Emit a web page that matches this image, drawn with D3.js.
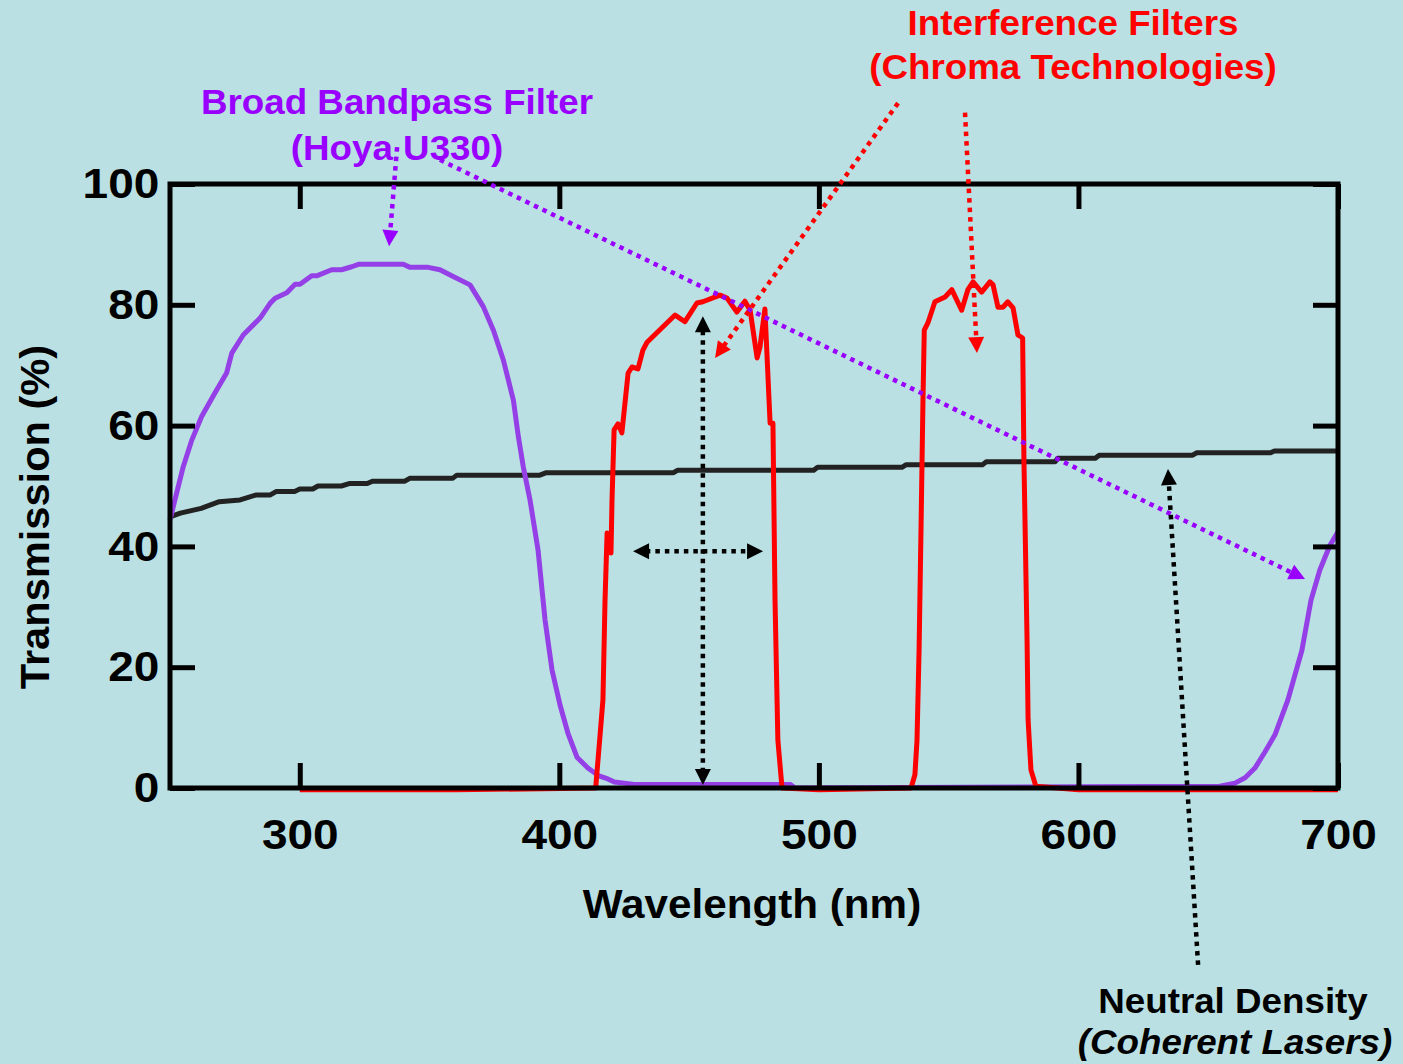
<!DOCTYPE html>
<html>
<head>
<meta charset="utf-8">
<script src="https://cdn.jsdelivr.net/npm/d3@7"></script>
<style>
  body { margin: 0; background: #bae0e3; }
  svg text { font-family: "Liberation Sans", Arial, Helvetica, sans-serif; font-weight: bold; }
</style>
</head>
<body>
<svg id="chart" width="1403" height="1064"></svg>
<script>
// [wavelength nm, transmission %]
var hoyaU330 = [[250,44.4],[251.9,47.7],[255.1,53.2],[258.4,57.6],[262.2,61.5],[267.3,65.4],[271.8,68.7],
  [273.8,72.0],[278.2,75.0],[284.7,77.8],[288.5,80.2],[290.5,81.1],[295,82.0],[298.2,83.4],[300.1,83.4],
  [304.6,84.8],[306.5,84.8],[312.3,85.8],[316.1,85.8],[320,86.3],[322.6,86.7],[339.9,86.7],[342.5,86.2],
  [349.5,86.2],[354,85.8],[359.1,84.7],[365.6,83.3],[370.7,79.7],[374.6,75.8],[378.4,70.9],[382.3,64.2],
  [384.2,58.2],[386.1,53.2],[388.7,47.7],[391.8,39.4],[394.5,27.8],[397.2,19.5],[400.3,13.7],[403.3,9.1],
  [406.8,5.1],[411,3.3],[415.3,2.0],[418.7,1.5],[421.2,1.0],[428.8,0.6],[488.9,0.6],[490.8,0],[654.5,0.3],
  [660.3,0.8],[664.2,1.7],[668,3.3],[671.9,6.0],[675.7,8.8],[680.7,14.6],[686.1,22.8],[689.6,31.1],
  [693,36.1],[696.9,40.2],[700,42.4]];

var chromaFilters = [[300,-0.3],[360,-0.3],[414,0],[415.7,8.8],[416.8,14.6],[417.6,31],[418.4,42.2],
  [419.1,41.9],[419.9,38.9],[420.3,47.7],[421.1,59.3],[422.6,60.3],[424.1,58.8],[426.5,68.7],[428,69.7],
  [430.3,69.4],[432.2,72.5],[433.8,73.8],[444.6,78.3],[448.4,77.2],[453,80.3],[455.3,80.5],[461.9,81.6],
  [464.6,81.1],[468.4,78.8],[471.5,80.6],[473.5,79.1],[476.2,71.2],[477.3,73.0],[479.2,79.3],[481.2,60.4],
  [482.3,60.4],[483.1,31.1],[484.2,7.9],[485.8,0],[500,-0.3],[535.5,0],[537,2.2],[537.8,7.9],[538.6,22.8],
  [539.4,44.4],[540.1,64.2],[540.6,75.8],[542,77],[544.7,80.5],[548.6,81.3],[551.2,82.5],[555,79.1],
  [557.4,82.5],[559.4,83.8],[562.7,82.1],[565.9,83.8],[567.1,83.3],[569,79.6],[570.9,79.6],[572.8,80.5],
  [574.8,79.5],[576.7,75],[578.5,74.5],[579,54.3],[579.4,44.4],[580.2,24.5],[580.6,11.3],[581.7,3.0],
  [583.6,0.3],[600,-0.3],[700,-0.3]];

var neutralDensity = [[250,44.9],[254,45.5],[262,46.3],[269,47.4],[277,47.7],[283,48.5],[288.5,48.5],
  [291,49.1],[298,49.1],[300,49.5],[305,49.5],[307,50.0],[316,50.0],[319,50.4],[326,50.4],[328,50.8],
  [340.5,50.8],[342.5,51.3],[359,51.3],[360.5,51.8],[392.5,51.8],[395,52.2],[444,52.2],[445.5,52.6],
  [498,52.6],[499.5,53.1],[532,53.1],[533.5,53.5],[563,53.5],[564.5,54.0],[591,54.0],[592,54.6],
  [606.5,54.6],[608,55.1],[644,55.1],[645.5,55.5],[674,55.5],[675.5,55.8],[700,55.8]];

var xTicks = [300, 400, 500, 600, 700];
var yTicks = [0, 20, 40, 60, 80, 100];

// annotation arrows, endpoints in data units
var arrows = [
  {from: [337.5, 106.1], to: [334.4, 89.7], color: "#9900ff", both: false},
  {from: [354, 104], to: [687.3, 34.6], color: "#9900ff", both: false},
  {from: [530.5, 113.4], to: [460, 71.2], color: "#ff0000", both: false},
  {from: [556.3, 111.8], to: [560.9, 72.0], color: "#ff0000", both: false},
  {from: [455.3, 0.5], to: [455.3, 78.1], color: "#000000", both: true},
  {from: [428.4, 39.2], to: [478.5, 39.2], color: "#000000", both: true},
  {from: [646.1, -29.3], to: [634.5, 52.8], color: "#000000", both: false}
];

var svg = d3.select("#chart");
var x = d3.scaleLinear().domain([250, 700]).range([170, 1338]);
var y = d3.scaleLinear().domain([0, 100]).range([788, 184]);

var line = d3.line().x(function(d) { return x(d[0]); }).y(function(d) { return y(d[1]); });

//Curves: ND first, then Hoya, then the red interference filters on top
svg.append("path").datum(neutralDensity).attr("d", line)
  .attr("fill", "none").attr("stroke", "#222").attr("stroke-width", 5).attr("stroke-linejoin", "round");
svg.append("path").datum(hoyaU330).attr("d", line)
  .attr("fill", "none").attr("stroke", "#9440e6").attr("stroke-width", 5).attr("stroke-linejoin", "round");
svg.append("path").datum(chromaFilters).attr("d", line)
  .attr("fill", "none").attr("stroke", "#ff0000").attr("stroke-width", 5).attr("stroke-linejoin", "round");

//Frame and inward ticks on all four sides
svg.append("rect")
  .attr("x", x(250)).attr("y", y(100))
  .attr("width", x(700) - x(250)).attr("height", y(0) - y(100))
  .attr("fill", "none").attr("stroke", "#000").attr("stroke-width", 5);

var gx = svg.append("g").attr("transform", "translate(0," + y(0) + ")")
  .call(d3.axisBottom(x).tickValues(xTicks).tickSize(-25).tickPadding(30));
var gxTop = svg.append("g").attr("transform", "translate(0," + y(100) + ")")
  .call(d3.axisTop(x).tickValues(xTicks).tickSize(-25).tickFormat(""));
var gy = svg.append("g").attr("transform", "translate(" + x(250) + ",0)")
  .call(d3.axisLeft(y).tickValues(yTicks).tickSize(-25).tickPadding(10));
var gyRight = svg.append("g").attr("transform", "translate(" + x(700) + ",0)")
  .call(d3.axisRight(y).tickValues(yTicks).tickSize(-25).tickFormat(""));

[gx, gxTop, gy, gyRight].forEach(function(g) {
  g.select(".domain").remove();
  g.selectAll(".tick line").attr("stroke", "#000").attr("stroke-width", 5);
  g.selectAll(".tick text")
    .attr("fill", "#000")
    .style("font-size", "43px")
    .attr("transform", "scale(1.07,1)");
});

//Axis titles
svg.append("text")
  .attr("transform", "translate(752,918) scale(1.055,1)")
  .attr("text-anchor", "middle").style("font-size", "40px").attr("fill", "#000")
  .text("Wavelength (nm)");
svg.append("text")
  .attr("transform", "translate(49,517) rotate(-90) scale(1.04,1)")
  .attr("text-anchor", "middle").style("font-size", "40px").attr("fill", "#000")
  .text("Transmission (%)");

//Annotation labels
function label(txt, cx, baseline, color, italic) {
  svg.append("text")
    .attr("transform", "translate(" + cx + "," + baseline + ") scale(1.05,1)")
    .attr("text-anchor", "middle")
    .style("font-size", "35px")
    .style("font-style", italic ? "italic" : "normal")
    .attr("fill", color)
    .text(txt);
}
label("Broad Bandpass Filter", 397, 114, "#9900ff");
label("(Hoya U330)", 397, 160, "#9900ff");
label("Interference Filters", 1073, 35, "#ff0000");
label("(Chroma Technologies)", 1073, 79, "#ff0000");
label("Neutral Density", 1233, 1013, "#000");
label("(Coherent Lasers)", 1235, 1054, "#000", true);

//Dotted arrows with filled triangular heads
var headLen = 16, headHalf = 8;
function head(tip, tail, color) {
  var dx = tip[0] - tail[0], dy = tip[1] - tail[1], len = Math.sqrt(dx*dx + dy*dy);
  var ux = dx/len, uy = dy/len;
  var bx = tip[0] - ux*headLen, by = tip[1] - uy*headLen;
  var pts = [tip, [bx - uy*headHalf, by + ux*headHalf], [bx + uy*headHalf, by - ux*headHalf]];
  svg.append("path").attr("d", "M" + pts.join("L") + "Z").attr("fill", color);
}
arrows.forEach(function(a) {
  var p0 = [x(a.from[0]), y(a.from[1])], p1 = [x(a.to[0]), y(a.to[1])];
  var dx = p1[0] - p0[0], dy = p1[1] - p0[1], len = Math.sqrt(dx*dx + dy*dy);
  var ux = dx/len, uy = dy/len;
  var s = a.both ? [p0[0] + ux*headLen*0.8, p0[1] + uy*headLen*0.8] : p0;
  var e = [p1[0] - ux*headLen*0.8, p1[1] - uy*headLen*0.8];
  svg.append("line")
    .attr("x1", s[0]).attr("y1", s[1]).attr("x2", e[0]).attr("y2", e[1])
    .attr("stroke", a.color).attr("stroke-width", 4.5).attr("stroke-dasharray", "4.5,5");
  head(p1, p0, a.color);
  if (a.both) head(p0, p1, a.color);
});
</script>
</body>
</html>
